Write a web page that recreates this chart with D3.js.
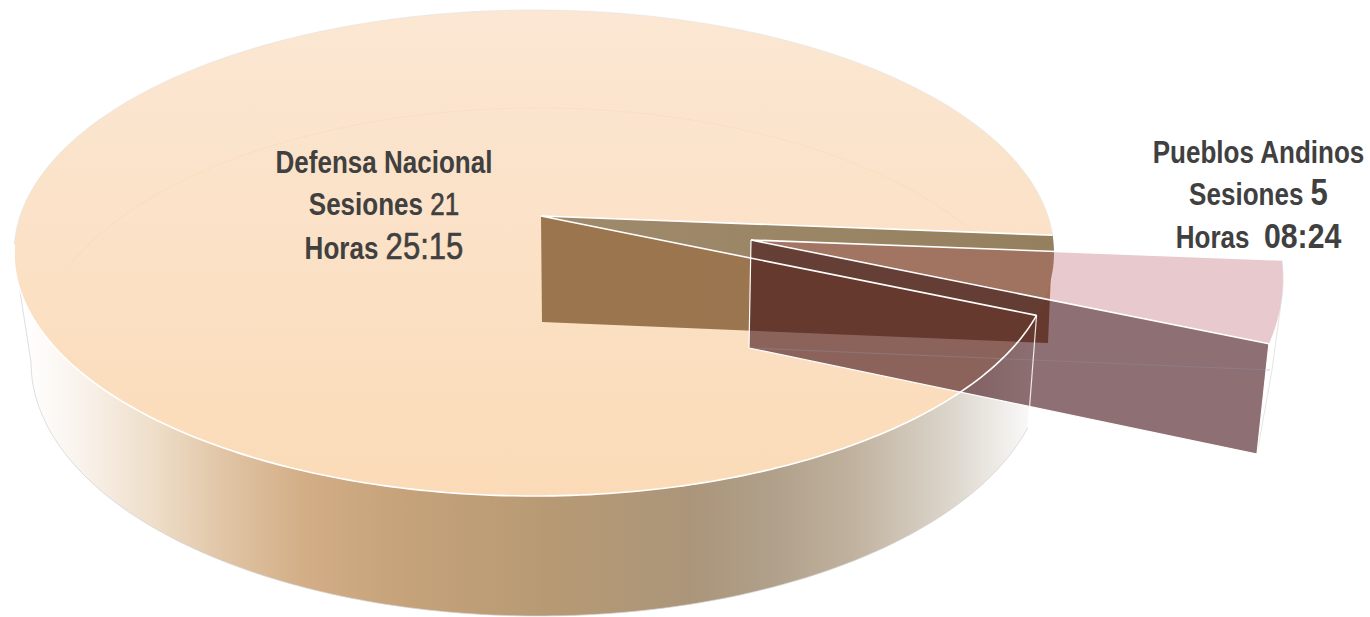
<!DOCTYPE html>
<html><head><meta charset="utf-8">
<script src="https://cdn.jsdelivr.net/npm/d3@7"></script>
<style>html,body{margin:0;padding:0;background:#fff;overflow:hidden}svg{display:block}
text{font-family:"Liberation Sans",Arial,sans-serif;fill:#404040;font-weight:700}</style>
</head><body><svg id="c" width="1370" height="617"></svg>
<script>
const categories = ["Pueblos Andinos", "Defensa Nacional"];
const sessions = ["5", "21"];
const hours = ["08:24", "25:15"];
const sliceShares = [5.3, 94.7]; // as drawn in the picture

const svg = d3.select("#c");
const defs = svg.append("defs");
const deg = Math.PI / 180;
const pie = d3.pie().sort(null).startAngle(85.8 * deg).endAngle(445.8 * deg);
const arcs = pie(sliceShares);
const small = arcs[0], big = arcs[1];

function ellipse(cx, cy, rx, ry) {
  const sx = d3.scaleLinear([-1, 1], [cx - rx, cx + rx]);
  const sy = d3.scaleLinear([-1, 1], [cy - ry, cy + ry]);
  return a => [sx(Math.sin(a)), sy(-Math.cos(a))];
}
const topE = ellipse(534, 253, 520, 243);
const botE = ellipse(538, 362, 507, 254);
const expTop = ellipse(863, 278.6, 420, 254);
const apexTop = [541, 216], apexBot = [542, 322];
const expApexTop = [751, 240], expApexBot = [749, 348];

const sample = (fn, a0, a1, n = 160) => d3.range(n + 1).map(i => fn(a0 + (a1 - a0) * i / n));
const line = d3.line();

function grad(id, x1, y1, x2, y2, stops) {
  const g = defs.append("linearGradient").attr("id", id).attr("gradientUnits", "userSpaceOnUse")
    .attr("x1", x1).attr("y1", y1).attr("x2", x2).attr("y2", y2);
  stops.forEach(s => g.append("stop").attr("offset", s[0]).attr("stop-color", s[1]));
}
grad("wall", 25, 0, 1032, 0, [[0, "#ffffff"], [.05, "#faf4ee"], [.13, "#eeddc8"], [.2, "#e0c4a4"], [.28, "#d2ad85"], [.38, "#c5a27a"], [.52, "#b79a74"], [.66, "#ab957a"], [.74, "#b0a08a"], [.82, "#c0b19e"], [.92, "#dcd6cc"], [1, "#fbfafa"]]);
grad("top", 0, 10, 0, 496, [[0, "#fbe7d3"], [.5, "#fbe1c6"], [1, "#fbdbb7"]]);
grad("brown", 541, 0, 1058, 0, [[0, "#9a754e"], [1, "#9b7650"]]);
grad("notch", 541, 0, 1058, 0, [[0, "#a08a6c"], [1, "#94805e"]]);

// outer wall of the large slice
const leftTop = topE(270 * deg);
const front = sample(topE, small.endAngle, 270 * deg);
const frontBot = sample(botE, small.endAngle, 270 * deg);
svg.append("path").attr("d", line(front.concat(frontBot.slice().reverse())) + "Z").attr("fill", "url(#wall)");
svg.append("path").attr("d", line(frontBot.concat([leftTop]))).attr("fill", "none").attr("stroke", "#d0d0d0").attr("stroke-width", .7);

// top face of the large slice
const bigRim = sample(topE, big.startAngle, big.endAngle, 360);
svg.append("path").attr("d", line([apexTop].concat(bigRim)) + "Z").attr("fill", "url(#top)");
// faint far edge seen through the top face
svg.append("path").attr("d", line(sample(botE, 292 * deg, 432 * deg))).attr("fill", "none").attr("stroke", "#f3c9a0").attr("stroke-width", .8).attr("opacity", .3);
// upper rim line
svg.append("path").attr("d", line(sample(topE, 272 * deg, 445.8 * deg))).attr("fill", "none").attr("stroke", "#e2e2e2").attr("stroke-width", .6);

// cut faces of the large slice
const rimA = topE(small.startAngle), rimB = topE(small.endAngle);
const rimABot = [1048, 343];
svg.append("path").attr("d", line([apexTop, rimA, rimABot, apexBot]) + "Z").attr("fill", "url(#brown)");
svg.append("path").attr("d", line([apexTop].concat(sample(topE, small.startAngle, small.endAngle, 20))) + "Z").attr("fill", "url(#notch)");

// exploded slice
const xa = expTop(small.startAngle), xb = expTop(small.endAngle);
const xbBot = [1257, 454];
const xaBot = [1270, 370];
svg.append("path").attr("d", line([expApexTop, xb, xbBot, expApexBot]) + "Z").attr("fill", "#431117").attr("fill-opacity", .6);
svg.append("path").attr("d", line([expApexTop].concat(sample(expTop, small.startAngle, small.endAngle, 20))) + "Z").attr("fill", "#b85764").attr("fill-opacity", .32);
svg.append("path").attr("d", line([expApexBot, xaBot])).attr("fill", "none").attr("stroke", "#8f8a9c").attr("stroke-width", .8).attr("opacity", .6);
svg.append("path").attr("d", line(sample(expTop, small.startAngle, 94 * deg, 12).concat([[1272, 370], xbBot]))).attr("fill", "none").attr("stroke", "#d8d8d8").attr("stroke-width", .7);

// white edges on top of everything
const edge = (pts, w, o = 1) => svg.append("path").attr("d", line(pts)).attr("fill", "none").attr("stroke", "#ffffff").attr("stroke-width", w).attr("stroke-opacity", o);
edge(sample(topE, small.endAngle, 272 * deg), 1.6);
edge([rimB, apexTop, rimA], 1.6);
edge([rimB, botE(small.endAngle)], 1.2, .85);
edge([xa, expApexTop, xb], 1.6);
edge([expApexTop, expApexBot, xbBot, xb], 1.2);

// labels
function label(cx, ys, lines) {
  lines.forEach((parts, i) => {
    const t = svg.append("text").attr("transform", `translate(${cx},${ys[i]}) scale(.84,1)`).attr("text-anchor", "middle").style("font-size", "31px");
    parts.forEach(p => t.append("tspan").text(p[0]).style("font-size", p[1] + "px").style("font-weight", p[2])
      .style("stroke", p[2] === 400 ? "#404040" : "none").style("stroke-width", p[2] === 400 ? .6 : 0));
  });
}
label(384, [173, 215, 259], [
  [[categories[1], 31, 700]],
  [["Sesiones\u00a0", 31, 700], [sessions[1], 31, 400]],
  [["Horas\u00a0", 31, 700], [hours[1], 37, 400]]
]);
label(1258.5, [163, 205, 248], [
  [[categories[0], 31, 700]],
  [["Sesiones\u00a0", 31, 700], [sessions[0], 37, 700]],
  [["Horas\u00a0\u00a0", 31, 700], [hours[0], 36, 700]]
]);
</script></body></html>
